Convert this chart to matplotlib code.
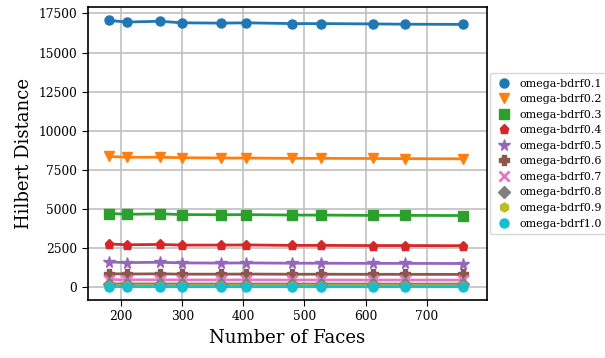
import matplotlib
matplotlib.use("Agg")
import matplotlib.pyplot as plt

plt.rcParams['font.family'] = ['DejaVu Serif']

faces = [180, 209, 264, 299, 364, 405, 480, 527, 612, 665, 760]

series_names = ['omega-bdrf0.1', 'omega-bdrf0.2', 'omega-bdrf0.3', 'omega-bdrf0.4',
                'omega-bdrf0.5', 'omega-bdrf0.6', 'omega-bdrf0.7', 'omega-bdrf0.8',
                'omega-bdrf0.9', 'omega-bdrf1.0']

bdrf01 = [17050, 16950, 17000, 16900, 16880, 16900, 16850, 16850, 16830, 16810, 16800]
bdrf02 = [8350, 8300, 8300, 8270, 8250, 8250, 8230, 8230, 8220, 8210, 8200]
bdrf03 = [4700, 4650, 4680, 4630, 4620, 4630, 4600, 4600, 4580, 4580, 4570]
bdrf04 = [2750, 2700, 2720, 2680, 2680, 2690, 2660, 2660, 2650, 2650, 2640]
bdrf05 = [1600, 1560, 1580, 1540, 1530, 1540, 1520, 1520, 1510, 1510, 1500]
bdrf06 = [850, 830, 840, 820, 820, 825, 815, 815, 810, 810, 805]
bdrf07 = [470, 455, 460, 450, 450, 452, 445, 445, 442, 442, 440]
bdrf08 = [200, 195, 197, 192, 192, 193, 190, 190, 188, 188, 187]
bdrf09 = [80, 78, 79, 77, 77, 77, 76, 76, 75, 75, 75]
bdrf10 = [20, 19, 20, 19, 19, 19, 18, 18, 18, 18, 18]

all_series = [bdrf01, bdrf02, bdrf03, bdrf04, bdrf05, bdrf06, bdrf07, bdrf08, bdrf09, bdrf10]
markers = ['o', 'v', 's', 'p', '*', 'P', 'x', 'D', 'h', 'o']
colors = ['#1f77b4', '#ff7f0e', '#2ca02c', '#d62728', '#9467bd',
          '#8c564b', '#e377c2', '#7f7f7f', '#bcbd22', '#17becf']

fig = plt.figure(figsize=(6.05, 3.58), dpi=100)
ax = fig.add_axes([0.145, 0.162, 0.66, 0.818])

for name, vals, m, c in zip(series_names, all_series, markers, colors):
    ms = 6.5
    if m == '*':
        ms = 8.5
    ax.plot(faces, vals, color=c, linewidth=2, zorder=2)
    ax.plot(faces, vals, linestyle='none', marker=m, color=c, markersize=ms,
            markeredgewidth=2 if m == 'x' else 1, label=name, zorder=3)

ax.set_xlim(145, 799)
ax.set_xticks([200, 300, 400, 500, 600, 700])
ax.set_yticks([0, 2500, 5000, 7500, 10000, 12500, 15000, 17500])
ax.grid(True, color='#c0c0c0', linewidth=1.2)
ax.set_axisbelow(True)
ax.tick_params(labelsize=8.8, direction='out', length=4)
for s in ax.spines.values():
    s.set_color('black')
    s.set_linewidth(1.2)
ax.set_xlabel('Number of Faces', fontsize=13)
ax.set_ylabel('Hilbert Distance', fontsize=13)

ax.legend(loc='center left', bbox_to_anchor=(1.0, 0.5), borderaxespad=0.3,
          fontsize=8, frameon=True, handletextpad=0.6, borderpad=0.5,
          labelspacing=0.5, handlelength=1.5)

fig.savefig('out.png', dpi=100)
